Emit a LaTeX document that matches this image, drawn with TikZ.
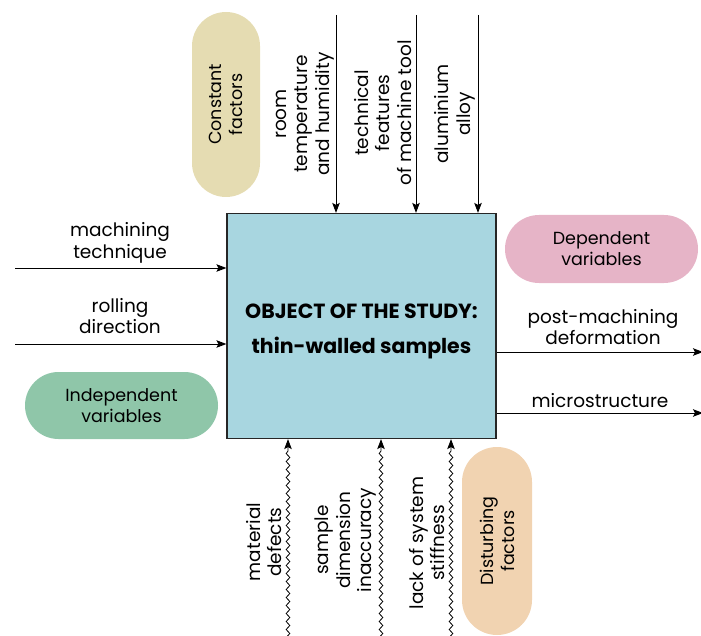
\documentclass[tikz,border=0pt]{standalone}
\usepackage{fontspec}
\setmainfont{Poppins}
\usetikzlibrary{arrows.meta,decorations.pathmorphing}
\definecolor{boxblue}{HTML}{A8D6E0}
\definecolor{tanpill}{HTML}{E5DCB2}
\definecolor{greenpill}{HTML}{8FC6A9}
\definecolor{pinkpill}{HTML}{E6B4C7}
\definecolor{peachpill}{HTML}{F1D3B1}
\tikzset{
  conn/.style={line width=0.9pt, -{Stealth[length=10pt,width=7.5pt,inset=2pt]}},
  wavy/.style={line width=0.8pt, -{Stealth[length=10pt,width=7.5pt,inset=2pt]},
    decorate, decoration={snake, amplitude=1.8pt, segment length=8pt, post length=10pt}},
  lbl/.style={align=center, font=\fontsize{18.5}{21.5}\selectfont, inner sep=0pt},
  vlbl/.style={lbl, rotate=90},
  pill/.style={fill=#1, inner sep=0pt, align=center, font=\fontsize{17.5}{21}\selectfont},
}
\begin{document}
\begin{tikzpicture}[x=1pt,y=-1pt]
\useasboundingbox (0,0) rectangle (701,636);
% pills
\node[pill=tanpill, rotate=90, minimum width=185pt, minimum height=68pt, rounded corners=34pt] (const) at (226,104.5) {Constant\\factors};
\node[pill=greenpill, minimum width=193pt, minimum height=67pt, rounded corners=33.5pt] (indep) at (121.5,405.5) {Independent\\variables};
\node[pill=pinkpill, minimum width=193pt, minimum height=68pt, rounded corners=34pt] (dep) at (601.5,249) {Dependent\\variables};
\node[pill=peachpill, rotate=90, minimum width=188pt, minimum height=70pt, rounded corners=35pt] (dist) at (497,541) {Disturbing\\factors};
% main box
\node[draw=black!85, line width=1.2pt, fill=boxblue, minimum width=269pt, minimum height=225pt, inner sep=0pt] (obj) at (361.5,326) {};
\node[inner sep=0pt, align=center, font=\bfseries\fontsize{20.5}{35}\selectfont] (objtxt) at ([yshift=-5pt]obj.center) {OBJECT OF THE STUDY:\\thin-walled samples};
% top inputs
\coordinate (t1) at (336,15);
\coordinate (t2) at (416,15);
\coordinate (t3) at (478,15);
\draw[conn] (t1) -- (t1 |- obj.north);
\draw[conn] (t2) -- (t2 |- obj.north);
\draw[conn] (t3) -- (t3 |- obj.north);
\node[vlbl] (lt1) at (305,114) {room\\temperature\\and humidity};
\node[vlbl] (lt2) at (383,113) {technical\\features\\of machine tool};
\node[vlbl] (lt3) at (455,114) {aluminium\\alloy};
% left inputs
\coordinate (l1) at (15,268);
\coordinate (l2) at (15,344);
\draw[conn] (l1) -- (l1 -| obj.west);
\draw[conn] (l2) -- (l2 -| obj.west);
\node[lbl] (ll1) at (120,243) {machining\\technique};
\node[lbl] (ll2) at (120,316) {rolling\\direction};
% right outputs
\coordinate (r1) at (703,352);
\coordinate (r2) at (703,413);
\draw[conn] (r1 -| obj.east) -- (r1);
\draw[conn] (r2 -| obj.east) -- (r2);
\node[lbl] (lr1) at (603,327) {post-machining\\deformation};
\node[lbl] (lr2) at (600,401) {microstructure};
% bottom disturbances
\coordinate (b1) at (288,640);
\coordinate (b2) at (381,640);
\coordinate (b3) at (451,640);
\draw[wavy] (b1) -- (b1 |- obj.south);
\draw[wavy] (b2) -- (b2 |- obj.south);
\draw[wavy] (b3) -- (b3 |- obj.south);
\node[vlbl] (lb1) at (264,542) {material\\defects};
\node[vlbl] (lb2) at (346,540) {sample\\dimension\\inaccuracy};
\node[vlbl] (lb3) at (427,543) {lack of system\\stiffness};
\end{tikzpicture}
\end{document}
